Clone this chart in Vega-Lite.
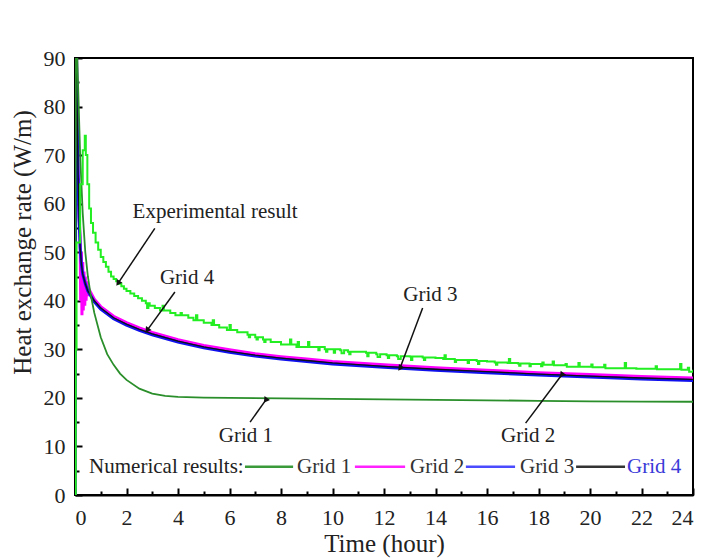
{
  "$schema": "https://vega.github.io/schema/vega-lite/v6.json",
  "autosize": {"type": "none"},
  "width": 618,
  "height": 437,
  "padding": {"left": 75, "top": 58, "right": 11, "bottom": 64},
  "background": "white",
  "config": {
    "font": "Liberation Serif",
    "view": {"stroke": "black", "strokeWidth": 2},
    "axis": {"grid": false, "domainColor": "black", "domainWidth": 2, "tickColor": "black", "tickWidth": 2, "labelFont": "Liberation Serif", "labelColor": "#222", "labelFontSize": 22, "titleFont": "Liberation Serif", "titleFontWeight": "normal", "titleColor": "#222", "titleFontSize": 25}
  },
  "datasets": {
    "curves": [
      {"s":"g1","t":0,"v":0},{"s":"g1","t":0.04,"v":100},{"s":"g1","t":0.1,"v":88},{"s":"g1","t":0.2,"v":70},{"s":"g1","t":0.3,"v":58},{"s":"g1","t":0.4,"v":50},{"s":"g1","t":0.5,"v":45},{"s":"g1","t":0.6,"v":41.5},{"s":"g1","t":0.75,"v":37.5},{"s":"g1","t":1,"v":32.5},{"s":"g1","t":1.25,"v":29},{"s":"g1","t":1.5,"v":26.8},{"s":"g1","t":1.75,"v":25},{"s":"g1","t":2,"v":23.7},{"s":"g1","t":2.5,"v":21.9},{"s":"g1","t":3,"v":20.9},{"s":"g1","t":3.5,"v":20.4},{"s":"g1","t":4,"v":20.2},{"s":"g1","t":5,"v":20.05},{"s":"g1","t":6,"v":20},{"s":"g1","t":8,"v":19.9},{"s":"g1","t":10,"v":19.8},{"s":"g1","t":12,"v":19.7},{"s":"g1","t":14,"v":19.6},{"s":"g1","t":16,"v":19.5},{"s":"g1","t":18,"v":19.4},{"s":"g1","t":20,"v":19.3},{"s":"g1","t":22,"v":19.25},{"s":"g1","t":24,"v":19.2},

      {"s":"g2","t":0,"v":0},{"s":"g2","t":0.04,"v":100},{"s":"g2","t":0.08,"v":80},{"s":"g2","t":0.12,"v":66},{"s":"g2","t":0.16,"v":57},{"s":"g2","t":0.2,"v":53},{"s":"g2","t":0.22,"v":40},{"s":"g2","t":0.25,"v":50},{"s":"g2","t":0.27,"v":37},{"s":"g2","t":0.3,"v":48},{"s":"g2","t":0.32,"v":38},{"s":"g2","t":0.35,"v":46},{"s":"g2","t":0.38,"v":39},{"s":"g2","t":0.4,"v":45},{"s":"g2","t":0.43,"v":40},{"s":"g2","t":0.46,"v":44},{"s":"g2","t":0.5,"v":41},{"s":"g2","t":0.55,"v":42.3},{"s":"g2","t":0.75,"v":40.3},{"s":"g2","t":1,"v":38.8},{"s":"g2","t":1.5,"v":36.8},{"s":"g2","t":2,"v":35.5},{"s":"g2","t":2.5,"v":34.4},{"s":"g2","t":3,"v":33.5},{"s":"g2","t":4,"v":32},{"s":"g2","t":5,"v":30.8},{"s":"g2","t":6,"v":29.9},{"s":"g2","t":7,"v":29.1},{"s":"g2","t":8,"v":28.5},{"s":"g2","t":9,"v":28},{"s":"g2","t":10,"v":27.5},{"s":"g2","t":12,"v":26.8},{"s":"g2","t":14,"v":26.2},{"s":"g2","t":16,"v":25.7},{"s":"g2","t":18,"v":25.2},{"s":"g2","t":20,"v":24.8},{"s":"g2","t":22,"v":24.4},{"s":"g2","t":24,"v":24.1},

      {"s":"g3","t":0,"v":0},{"s":"g3","t":0.04,"v":100},{"s":"g3","t":0.08,"v":80},{"s":"g3","t":0.12,"v":66},{"s":"g3","t":0.16,"v":57},{"s":"g3","t":0.2,"v":51},{"s":"g3","t":0.25,"v":47.5},{"s":"g3","t":0.3,"v":45.5},{"s":"g3","t":0.4,"v":43.5},{"s":"g3","t":0.5,"v":42},{"s":"g3","t":0.75,"v":39.8},{"s":"g3","t":1,"v":38.3},{"s":"g3","t":1.5,"v":36.3},{"s":"g3","t":2,"v":35},{"s":"g3","t":2.5,"v":33.9},{"s":"g3","t":3,"v":33},{"s":"g3","t":4,"v":31.5},{"s":"g3","t":5,"v":30.3},{"s":"g3","t":6,"v":29.4},{"s":"g3","t":7,"v":28.6},{"s":"g3","t":8,"v":28},{"s":"g3","t":9,"v":27.5},{"s":"g3","t":10,"v":27},{"s":"g3","t":12,"v":26.3},{"s":"g3","t":14,"v":25.7},{"s":"g3","t":16,"v":25.2},{"s":"g3","t":18,"v":24.7},{"s":"g3","t":20,"v":24.3},{"s":"g3","t":22,"v":23.9},{"s":"g3","t":24,"v":23.6},

      {"s":"g4","t":0,"v":0},{"s":"g4","t":0.04,"v":100},{"s":"g4","t":0.08,"v":80},{"s":"g4","t":0.12,"v":66},{"s":"g4","t":0.16,"v":57},{"s":"g4","t":0.2,"v":51},{"s":"g4","t":0.25,"v":47.5},{"s":"g4","t":0.3,"v":45.5},{"s":"g4","t":0.4,"v":43.5},{"s":"g4","t":0.5,"v":42},{"s":"g4","t":0.75,"v":40},{"s":"g4","t":1,"v":38.5},{"s":"g4","t":1.5,"v":36.5},{"s":"g4","t":2,"v":35.2},{"s":"g4","t":2.5,"v":34.1},{"s":"g4","t":3,"v":33.2},{"s":"g4","t":4,"v":31.7},{"s":"g4","t":5,"v":30.5},{"s":"g4","t":6,"v":29.6},{"s":"g4","t":7,"v":28.8},{"s":"g4","t":8,"v":28.2},{"s":"g4","t":9,"v":27.7},{"s":"g4","t":10,"v":27.2},{"s":"g4","t":12,"v":26.5},{"s":"g4","t":14,"v":25.9},{"s":"g4","t":16,"v":25.4},{"s":"g4","t":18,"v":24.9},{"s":"g4","t":20,"v":24.5},{"s":"g4","t":22,"v":24.1},{"s":"g4","t":24,"v":23.8},

      {"s":"e","t":0,"v":0},{"s":"e","t":0.03,"v":30},{"s":"e","t":0.06,"v":52},{"s":"e","t":0.2,"v":64},{"s":"e","t":0.3,"v":71},{"s":"e","t":0.38,"v":74},{"s":"e","t":0.42,"v":70},{"s":"e","t":0.48,"v":64},{"s":"e","t":0.55,"v":59},{"s":"e","t":0.62,"v":56},{"s":"e","t":0.7,"v":54},{"s":"e","t":0.8,"v":52},{"s":"e","t":0.9,"v":50.5},{"s":"e","t":1.0,"v":49},{"s":"e","t":1.1,"v":48},{"s":"e","t":1.2,"v":47},{"s":"e","t":1.3,"v":46},{"s":"e","t":1.4,"v":45},{"s":"e","t":1.5,"v":44.5},{"s":"e","t":1.6,"v":44},{"s":"e","t":1.7,"v":43.5},{"s":"e","t":1.8,"v":43},{"s":"e","t":1.9,"v":42.5},{"s":"e","t":2.0,"v":42},{"s":"e","t":2.15,"v":41.5},{"s":"e","t":2.3,"v":41},{"s":"e","t":2.45,"v":40.5},{"s":"e","t":2.6,"v":40},{"s":"e","t":2.75,"v":39.5},{"s":"e","t":2.8,"v":38.5},{"s":"e","t":2.85,"v":39.5},{"s":"e","t":2.9,"v":39},
      {"s":"e","t":3.1,"v":38.5},{"s":"e","t":3.3,"v":38},{"s":"e","t":3.4,"v":39},{"s":"e","t":3.45,"v":38},{"s":"e","t":3.7,"v":37.5},{"s":"e","t":3.9,"v":37},{"s":"e","t":4.1,"v":37.5},{"s":"e","t":4.15,"v":37},{"s":"e","t":4.4,"v":36.5},{"s":"e","t":4.6,"v":36},{"s":"e","t":4.7,"v":37},{"s":"e","t":4.75,"v":36},{"s":"e","t":5.0,"v":35.5},{"s":"e","t":5.3,"v":35},{"s":"e","t":5.35,"v":36},{"s":"e","t":5.4,"v":35},{"s":"e","t":5.6,"v":34.5},{"s":"e","t":5.9,"v":34},{"s":"e","t":6.0,"v":35},{"s":"e","t":6.05,"v":34},{"s":"e","t":6.3,"v":33.5},{"s":"e","t":6.7,"v":33},{"s":"e","t":6.75,"v":32.5},{"s":"e","t":6.8,"v":33},{"s":"e","t":7.0,"v":32.5},{"s":"e","t":7.05,"v":32},{"s":"e","t":7.1,"v":32.5},{"s":"e","t":7.3,"v":32},{"s":"e","t":7.35,"v":31.5},{"s":"e","t":7.4,"v":32},{"s":"e","t":7.6,"v":31.5},{"s":"e","t":8.0,"v":31},{"s":"e","t":8.3,"v":31},{"s":"e","t":8.35,"v":32},{"s":"e","t":8.4,"v":31},{"s":"e","t":8.6,"v":30.5},{"s":"e","t":8.65,"v":31.5},{"s":"e","t":8.7,"v":30.5},{"s":"e","t":9.05,"v":31.5},{"s":"e","t":9.1,"v":30.5},{"s":"e","t":9.45,"v":29.8},{"s":"e","t":9.5,"v":30.5},{"s":"e","t":9.7,"v":30},{"s":"e","t":9.75,"v":29.5},{"s":"e","t":9.8,"v":30},{"s":"e","t":10.05,"v":29.3},{"s":"e","t":10.1,"v":30},{"s":"e","t":10.3,"v":29.8},{"s":"e","t":10.35,"v":29.2},{"s":"e","t":10.45,"v":29.8},{"s":"e","t":10.6,"v":29.5},{"s":"e","t":10.65,"v":29},{"s":"e","t":10.7,"v":29.5},{"s":"e","t":11.3,"v":29.3},{"s":"e","t":11.35,"v":28.6},{"s":"e","t":11.4,"v":29.3},{"s":"e","t":11.7,"v":29},{"s":"e","t":11.75,"v":28.4},{"s":"e","t":11.85,"v":29},{"s":"e","t":12.1,"v":28.8},{"s":"e","t":12.15,"v":28.2},{"s":"e","t":12.2,"v":28.8},{"s":"e","t":12.5,"v":28.6},{"s":"e","t":12.55,"v":28},{"s":"e","t":12.65,"v":28.6},{"s":"e","t":13.0,"v":28.5},{"s":"e","t":13.05,"v":27.8},{"s":"e","t":13.1,"v":28.5},{"s":"e","t":13.5,"v":28.3},{"s":"e","t":13.55,"v":27.8},{"s":"e","t":13.6,"v":28.3},{"s":"e","t":14.0,"v":28.2},{"s":"e","t":14.3,"v":28},{"s":"e","t":14.35,"v":28.8},{"s":"e","t":14.4,"v":28},{"s":"e","t":14.75,"v":27.4},{"s":"e","t":14.8,"v":27.8},{"s":"e","t":15.25,"v":27.2},{"s":"e","t":15.3,"v":27.8},{"s":"e","t":15.6,"v":27.6},{"s":"e","t":15.65,"v":27},{"s":"e","t":15.7,"v":27.6},{"s":"e","t":16.0,"v":27.5},{"s":"e","t":16.3,"v":27.3},{"s":"e","t":16.35,"v":26.8},{"s":"e","t":16.4,"v":27.3},{"s":"e","t":16.8,"v":27.2},{"s":"e","t":16.85,"v":28},{"s":"e","t":16.9,"v":27.2},{"s":"e","t":17.2,"v":27.1},{"s":"e","t":17.25,"v":26.6},{"s":"e","t":17.3,"v":27.1},{"s":"e","t":17.65,"v":26.5},{"s":"e","t":17.7,"v":27},{"s":"e","t":18.1,"v":26.5},{"s":"e","t":18.15,"v":27.3},{"s":"e","t":18.2,"v":26.8},{"s":"e","t":18.55,"v":27.5},{"s":"e","t":18.6,"v":26.7},{"s":"e","t":19.05,"v":27},{"s":"e","t":19.1,"v":26.4},{"s":"e","t":19.55,"v":27.2},{"s":"e","t":19.6,"v":26.4},{"s":"e","t":20.05,"v":26.9},{"s":"e","t":20.1,"v":26.3},{"s":"e","t":20.55,"v":26.8},{"s":"e","t":20.6,"v":26.1},{"s":"e","t":21.35,"v":27.2},{"s":"e","t":21.4,"v":26.1},{"s":"e","t":21.8,"v":26},{"s":"e","t":22.55,"v":26.5},{"s":"e","t":22.6,"v":25.9},{"s":"e","t":23.5,"v":27},{"s":"e","t":23.55,"v":25.8},{"s":"e","t":23.8,"v":26.2},{"s":"e","t":23.85,"v":25.4},{"s":"e","t":24.0,"v":25.8}
    ],
    "notes": [
      {"label": "Experimental result", "t": 5.44, "v": 58.2},
      {"label": "Grid 4", "t": 4.35, "v": 44.6},
      {"label": "Grid 3", "t": 13.8, "v": 41.2},
      {"label": "Grid 2", "t": 17.6, "v": 12.1},
      {"label": "Grid 1", "t": 6.64, "v": 12.1}
    ],
    "arrows": [
      {"label": "Experimental result", "t": 3.1, "v": 54.9, "t2": 1.67, "v2": 43.6},
      {"label": "Grid 4", "t": 3.88, "v": 41.8, "t2": 2.8, "v2": 33.9},
      {"label": "Grid 3", "t": 13.5, "v": 38.5, "t2": 12.62, "v2": 26.1},
      {"label": "Grid 2", "t": 17.5, "v": 14.8, "t2": 18.9, "v2": 24.7},
      {"label": "Grid 1", "t": 6.8, "v": 15, "t2": 7.4, "v2": 19.5}
    ],
    "legendLines": [
      {"name": "Grid 1", "t": 6.6, "t2": 8.47, "v": 5.8},
      {"name": "Grid 2", "t": 10.87, "t2": 12.82, "v": 5.8},
      {"name": "Grid 3", "t": 15.18, "t2": 17.09, "v": 5.8},
      {"name": "Grid 4", "t": 19.46, "t2": 21.36, "v": 5.8}
    ],
    "legendText": [
      {"name": "Grid 1", "t": 8.62, "v": 5.8},
      {"name": "Grid 2", "t": 13.01, "v": 5.8},
      {"name": "Grid 3", "t": 17.28, "v": 5.8},
      {"name": "Grid 4", "t": 21.44, "v": 5.8}
    ],
    "legendHead": [
      {"name": "Numerical results:", "t": 6.55, "v": 5.8}
    ]
  },
  "encoding": {
    "x": {"field": "t", "type": "quantitative", "title": "Time (hour)",
      "scale": {"domain": [0, 24], "nice": false, "zero": false},
      "axis": {"values": [0,1,2,3,4,5,6,7,8,9,10,11,12,13,14,15,16,17,18,19,20,21,22,23,24],
        "labelExpr": "datum.value % 2 == 0 ? datum.label : ''",
        "labelFont": "Liberation Serif",
        "tickSize": {"condition": {"test": "datum.value % 2 == 0", "value": -7}, "value": -4},
        "labelPadding": 19, "titlePadding": 3}},
    "y": {"field": "v", "type": "quantitative", "title": "Heat exchange rate (W/m)",
      "scale": {"domain": [0, 90], "nice": false},
      "axis": {"values": [0,5,10,15,20,25,30,35,40,45,50,55,60,65,70,75,80,85,90],
        "labelExpr": "datum.value % 10 == 0 ? datum.label : ''",
        "labelFont": "Liberation Serif",
        "tickSize": {"condition": {"test": "datum.value % 10 == 0", "value": -7}, "value": -4},
        "labelPadding": 17, "titleX": -40, "titleY": 184}}
  },
  "layer": [
    {"data": {"name": "curves"}, "transform": [{"filter": "datum.s == 'g2'"}], "mark": {"type": "line", "color": "#ff00ff", "strokeWidth": 3, "clip": true}},
    {"data": {"name": "curves"}, "transform": [{"filter": "datum.s == 'g3'"}], "mark": {"type": "line", "color": "#1010ee", "strokeWidth": 3, "clip": true}},
    {"data": {"name": "curves"}, "transform": [{"filter": "datum.s == 'g4'"}], "mark": {"type": "line", "color": "#111111", "strokeWidth": 1.3, "clip": true}},
    {"data": {"name": "curves"}, "transform": [{"filter": "datum.s == 'g1'"}], "mark": {"type": "line", "color": "#2a8f2a", "strokeWidth": 1.8, "clip": true}},
    {"data": {"name": "curves"}, "transform": [{"filter": "datum.s == 'e'"}], "mark": {"type": "line", "color": "#22ee22", "strokeWidth": 2, "interpolate": "step-after", "clip": true}},
    {"data": {"name": "arrows"}, "mark": {"type": "rule", "color": "#111", "strokeWidth": 1.5},
      "encoding": {"x2": {"field": "t2"}, "y2": {"field": "v2"}}},
    {"data": {"name": "arrows"}, "mark": {"type": "point", "shape": "triangle-up", "filled": true, "color": "#111", "size": 45, "opacity": 1},
      "encoding": {"x": {"field": "t2", "type": "quantitative"}, "y": {"field": "v2", "type": "quantitative"},
        "angle": {"field": "label", "type": "nominal", "legend": null,
          "scale": {"domain": ["Experimental result", "Grid 4", "Grid 3", "Grid 2", "Grid 1"], "range": [214, 216, 200, 37, 34]}}}},
    {"data": {"name": "notes"}, "mark": {"type": "text", "font": "Liberation Serif", "fontSize": 21, "color": "#222", "align": "center", "baseline": "middle"},
      "encoding": {"text": {"field": "label"}}},
    {"data": {"name": "legendLines"}, "mark": {"type": "rule", "strokeWidth": 2.5},
      "encoding": {"x2": {"field": "t2"},
        "color": {"field": "name", "type": "nominal", "legend": null,
          "scale": {"domain": ["Grid 1", "Grid 2", "Grid 3", "Grid 4"], "range": ["#3a9a3a", "#ff22ff", "#4a4aff", "#333333"]}}}},
    {"data": {"name": "legendText"}, "mark": {"type": "text", "font": "Liberation Serif", "fontSize": 21, "align": "left", "baseline": "middle"},
      "encoding": {"text": {"field": "name"},
        "color": {"condition": {"test": "datum.name == 'Grid 4'", "value": "#3a3ad8"}, "value": "#333333"}}},
    {"data": {"name": "legendHead"}, "mark": {"type": "text", "font": "Liberation Serif", "fontSize": 21, "color": "#222", "align": "right", "baseline": "middle"},
      "encoding": {"text": {"field": "name"}}}
  ]
}
